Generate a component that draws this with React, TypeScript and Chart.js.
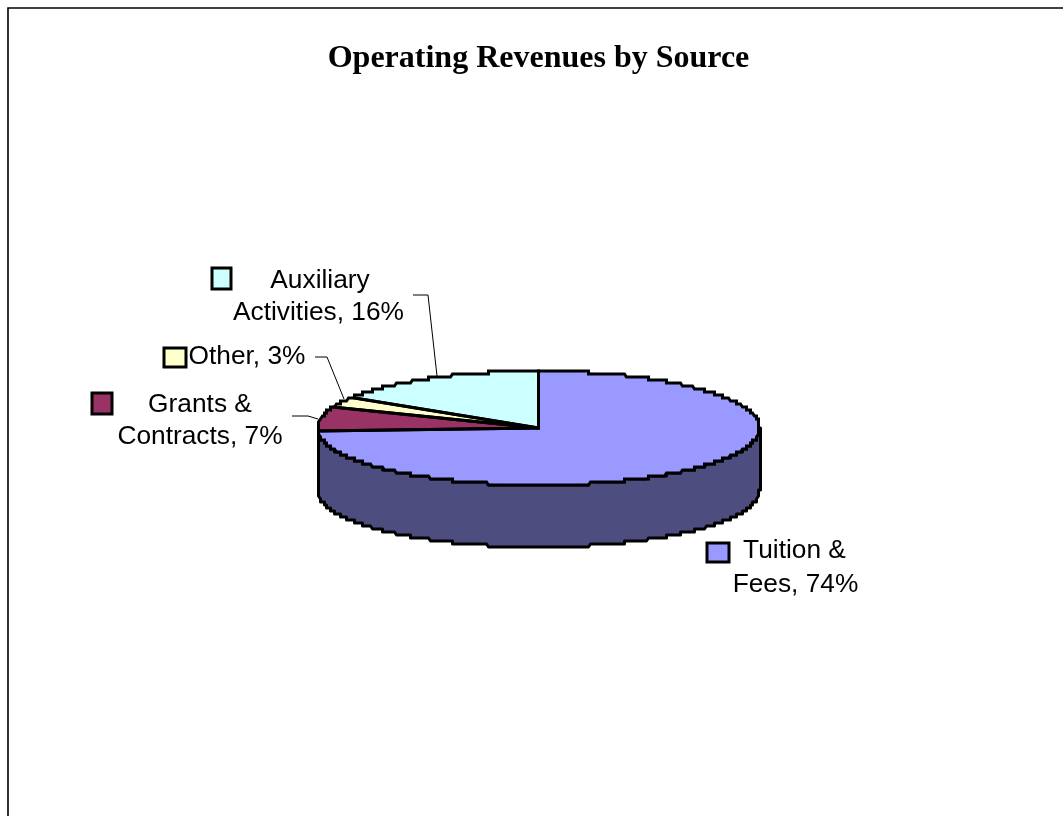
import React, { useEffect, useRef } from "react";
import { Chart, registerables } from "chart.js";

Chart.register(...registerables);

const chartTitle = "Operating Revenues by Source";
const categories = ["Tuition & Fees", "Grants & Contracts", "Other", "Auxiliary Activities"];
const shares = [74, 6.9, 3.4, 15.7];
const sliceColors = ["#9999FF", "#993366", "#FFFFCC", "#CCFFFF"];
const sideColors = ["#4D4D80", "#4D1A33", "#808066", "#668080"];

// Words on the first line of each wrapped data label
const firstLineWords = [2, 2, 0, 1];

const SQUASH = 57 / 221;
const DEPTH = 62;
const LABEL_FONT = '26.3px "Liberation Sans", Arial, sans-serif';
const OUTLINE = 3;

const labelLayout = [
  { cx: 794.5, y: 558, y2: 592, cx2: 795.5, keyX: 707, keyY: 543, keyW: 22, keyH: 19, lead: null },
  { cx: 200, y: 412, y2: 444, cx2: 200, keyX: 92, keyY: 393, keyW: 20, keyH: 21, lead: [[292, 416], [308, 416], [318, 419]] },
  { cx: 247, y: 364, y2: 0, cx2: 0, keyX: 164, keyY: 348, keyW: 22, keyH: 19, lead: [[315, 357], [327, 357], [344, 399]] },
  { cx: 320, y: 288, y2: 320, cx2: 318.5, keyX: 212, keyY: 268, keyW: 19, keyH: 21, lead: [[413, 295], [428, 295], [437, 376]] },
];

function ellipsePoints(cx: number, cy: number, r: number, a0: number, a1: number) {
  const pts: [number, number][] = [];
  const n = Math.max(2, Math.ceil(Math.abs(a1 - a0) * 160));
  for (let i = 0; i <= n; i++) {
    const a = a0 + ((a1 - a0) * i) / n;
    const x = cx + r * Math.cos(a);
    const y = cy + r * SQUASH * Math.sin(a);
    const qx = cx + Math.round((x - cx) / 2) * 2;
    const qy = cy + Math.round((y - cy) / 3) * 3;
    pts.push([qx, qy]);
  }
  return pts;
}

const pie3d = {
  id: "pie3d",
  beforeDatasetsDraw(chart: any) {
    const { ctx } = chart;
    const arcs = chart.getDatasetMeta(0).data;
    const cx = arcs[0].x;
    const cy = arcs[0].y;
    const r = arcs[0].outerRadius;

    // Frame of the chart area
    ctx.save();
    ctx.strokeStyle = "#000";
    ctx.lineWidth = 1.6;
    ctx.beginPath();
    ctx.moveTo(8, 816);
    ctx.lineTo(8, 8);
    ctx.lineTo(1063, 8);
    ctx.stroke();
    ctx.restore();

    // Side wall, only for the part of the rim that faces the viewer
    ctx.save();
    ctx.lineJoin = "round";
    arcs.forEach((arc: any, i: number) => {
      const a0 = Math.max(arc.startAngle, 0);
      const a1 = Math.min(arc.endAngle, Math.PI);
      if (a1 <= a0) return;
      const top = ellipsePoints(cx, cy, r, a0, a1);
      const bottom = top.map(([x, y]) => [x, y + DEPTH]);
      ctx.beginPath();
      top.forEach(([x, y], k) => (k ? ctx.lineTo(x, y) : ctx.moveTo(x, y)));
      bottom.reverse().forEach(([x, y]) => ctx.lineTo(x, y));
      ctx.closePath();
      ctx.fillStyle = sideColors[i];
      ctx.fill();
      ctx.strokeStyle = "#000";
      ctx.lineWidth = OUTLINE;
      ctx.stroke();
    });
    ctx.restore();

    // Flatten the library's own arcs into the tilted top face
    ctx.save();
    ctx.translate(0, cy);
    ctx.scale(1, SQUASH);
    ctx.translate(0, -cy);
  },
  afterDatasetsDraw(chart: any) {
    const { ctx } = chart;
    ctx.restore();

    const arcs = chart.getDatasetMeta(0).data;

    // Uniform-width outlines of the slices
    ctx.save();
    ctx.strokeStyle = "#000";
    ctx.lineWidth = OUTLINE;
    ctx.lineJoin = "miter";
    arcs.forEach((arc: any) => {
      const pts = ellipsePoints(arc.x, arc.y, arc.outerRadius, arc.startAngle, arc.endAngle);
      ctx.beginPath();
      ctx.moveTo(arc.x, arc.y);
      pts.forEach(([x, y]) => ctx.lineTo(x, y));
      ctx.closePath();
      ctx.stroke();
    });
    ctx.restore();

    // Leader lines, keys and data labels
    ctx.save();
    ctx.textBaseline = "alphabetic";
    ctx.textAlign = "center";
    ctx.font = LABEL_FONT;
    categories.forEach((cat, i) => {
      const l = labelLayout[i];
      if (l.lead) {
        ctx.strokeStyle = "#000";
        ctx.lineWidth = 1;
        ctx.beginPath();
        l.lead.forEach(([x, y]: number[], k: number) => (k ? ctx.lineTo(x, y) : ctx.moveTo(x, y)));
        ctx.stroke();
      }
      ctx.fillStyle = sliceColors[i];
      ctx.strokeStyle = "#000";
      ctx.lineWidth = 3;
      ctx.fillRect(l.keyX, l.keyY, l.keyW, l.keyH);
      ctx.strokeRect(l.keyX, l.keyY, l.keyW, l.keyH);

      const words = `${cat}, ${Math.round(shares[i])}%`.split(" ");
      const n = firstLineWords[i];
      ctx.fillStyle = "#000";
      if (n === 0) {
        ctx.fillText(words.join(" "), l.cx, l.y);
      } else {
        ctx.fillText(words.slice(0, n).join(" "), l.cx, l.y);
        ctx.fillText(words.slice(n).join(" "), l.cx2, l.y2);
      }
    });
    ctx.restore();
  },
};

export default function App() {
  const ref = useRef<HTMLCanvasElement>(null);
  useEffect(() => {
    const chart = new Chart(ref.current as HTMLCanvasElement, {
      type: "pie",
      data: {
        labels: categories,
        datasets: [
          {
            data: shares,
            backgroundColor: sliceColors,
            borderWidth: 0,
            radius: 221,
            clip: false,
          } as any,
        ],
      },
      options: {
        animation: false,
        responsive: false,
        devicePixelRatio: 1,
        events: [],
        layout: { padding: { left: 14, bottom: 37.7 } },
        plugins: {
          legend: { display: false },
          tooltip: { enabled: false },
          title: {
            display: true,
            text: chartTitle,
            color: "#000",
            font: { family: '"Liberation Serif", "Times New Roman", serif', size: 32, weight: "bold" },
            padding: { top: 39.3, bottom: 0 },
          },
        },
      },
      plugins: [pie3d],
    } as any);
    return () => chart.destroy();
  }, []);
  return (
    <div style={{ position: "absolute", left: 0, top: 0, width: 1063, height: 816, background: "#fff" }}>
      <canvas ref={ref} width={1063} height={816} style={{ display: "block" }} />
    </div>
  );
}
